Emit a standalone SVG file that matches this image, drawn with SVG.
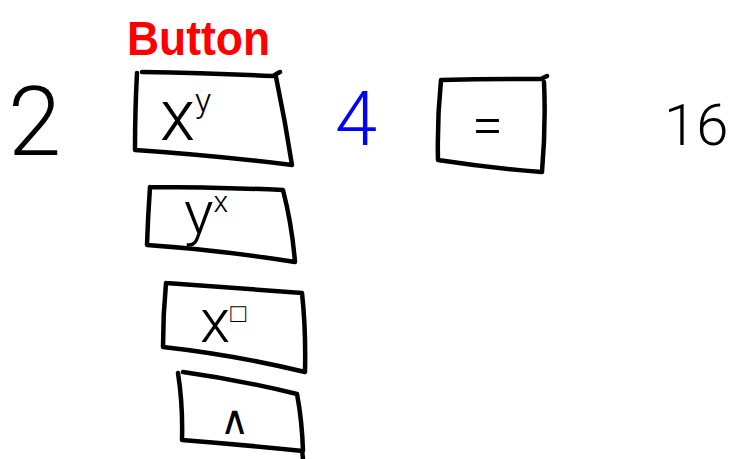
<svg xmlns="http://www.w3.org/2000/svg" width="729" height="459" viewBox="0 0 729 459">
<style>
.box{fill:none;stroke:#000;stroke-width:4.5;stroke-linecap:round;stroke-linejoin:round}
.t{font-family:Roboto,"DejaVu Sans",sans-serif;font-weight:300;fill:#000}
</style>
<rect width="729" height="459" fill="#fff"/>
<g id="label-button">
<text x="127" y="55" font-family="'Liberation Sans',sans-serif" font-weight="bold" font-size="48" fill="#ff0000" textLength="143" lengthAdjust="spacingAndGlyphs">Button</text>
</g>
<g id="num-2"><text class="t" x="8" y="155" font-size="96">2</text></g>
<g id="btn-xy">
<path class="box" d="M137,73 Q135,110 135,150 Q210,155 292,165 Q285,120 276,77 M142,72 Q210,73 273,76 Q276,74 280,72"/>
<text class="t" x="160" y="140" font-size="72">x<tspan font-size="34" dy="-28">y</tspan></text>
</g>
<g id="num-4"><text x="335" y="145" font-family="Roboto,'DejaVu Sans',sans-serif" font-weight="300" font-size="76" fill="#0000ff">4</text></g>
<g id="btn-eq">
<path class="box" d="M441,80 Q437,120 438,160 Q490,168 542,172 Q546,125 544,82 M441,80 Q490,79 541,79 Q543,78 547,76"/>
<text class="t" x="472" y="144" font-size="56">=</text>
</g>
<g id="num-16"><text class="t" x="664" y="145" font-size="58">16</text></g>
<g id="btn-yx">
<path class="box" d="M150,187 Q148,215 147,245 Q220,250 295,262 Q292,225 283,190 Q215,187 150,187"/>
<text class="t" x="184" y="234" font-size="62">y<tspan font-size="30" dy="-22">x</tspan></text>
</g>
<g id="btn-xbox">
<path class="box" d="M166,283 Q163,315 163,347 Q235,355 305,372 Q306,330 302,293 Q235,288 166,283"/>
<text class="t" x="200" y="342" font-size="62">x<tspan font-family="'DejaVu Sans',sans-serif" font-size="26" dy="-20" fill="#000">□</tspan></text>
</g>
<g id="btn-caret">
<path class="box" d="M178,373 Q183,405 182,440 Q245,445 303,451 Q302,420 297,394 Q240,380 183,372 M302,450 L303,459"/>
<text x="220" y="434" font-family="'DejaVu Sans',sans-serif" font-size="40" fill="#000">∧</text>
</g>
<g id="connectors"></g>
</svg>
